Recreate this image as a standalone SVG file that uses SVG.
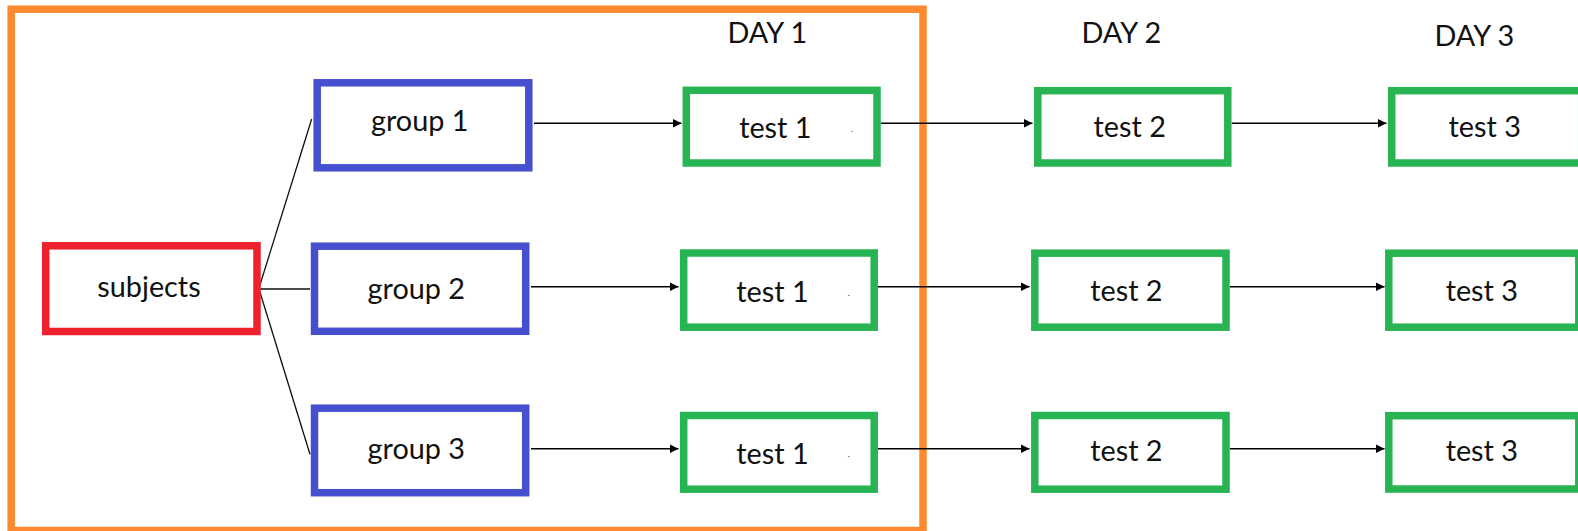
<svg xmlns="http://www.w3.org/2000/svg" width="1578" height="531" viewBox="0 0 1578 531">
<defs>
<marker id="ah" markerUnits="userSpaceOnUse" markerWidth="10" markerHeight="9" refX="9" refY="4.5" orient="auto">
<path d="M0,0 L9,4.5 L0,9 z" fill="#000"/>
</marker>
<style>
.lbl{font-family:Lato,"Open Sans","Liberation Sans",sans-serif;font-size:28.8px;fill:#111;text-anchor:middle}
.dot{font-family:"Liberation Sans",sans-serif;font-size:9px;fill:#223;text-anchor:middle}
.box{fill:#fff;stroke-width:7.5}
.frame{fill:none;stroke:#FD8A30;stroke-width:7.5}
.red{stroke:#EE222E}
.blue{stroke:#4650CE}
.green{stroke:#28B453}
.line{stroke:#111;stroke-width:1.3;fill:none}
.arr{stroke:#000;stroke-width:1.5;fill:none;marker-end:url(#ah)}
</style>
</defs>
<rect width="1578" height="531" fill="#fff"/>
<g id="frame-day1">
<rect class="frame" x="11.2" y="9.2" width="911.8" height="521.3"/>
</g>
<g id="connectors">
<line class="line" x1="259" y1="288" x2="311.7" y2="119"/>
<line class="line" x1="259" y1="289" x2="310" y2="289"/>
<line class="line" x1="259" y1="289" x2="310" y2="454.3"/>
<line class="arr" x1="534" y1="123.3" x2="681.5" y2="123.3"/>
<line class="arr" x1="531" y1="286.7" x2="678.5" y2="286.7"/>
<line class="arr" x1="531" y1="448.7" x2="678.5" y2="448.7"/>
<line class="arr" x1="880.7" y1="123.3" x2="1032.5" y2="123.3"/>
<line class="arr" x1="877.7" y1="286.7" x2="1029.5" y2="286.7"/>
<line class="arr" x1="877.7" y1="448.7" x2="1029.5" y2="448.7"/>
<line class="arr" x1="1231.7" y1="123.3" x2="1386.5" y2="123.3"/>
<line class="arr" x1="1229.7" y1="286.7" x2="1384.5" y2="286.7"/>
<line class="arr" x1="1229.7" y1="448.7" x2="1384.5" y2="448.7"/>
</g>
<g id="subjects">
<rect class="box red" x="45.7" y="245.8" width="211.3" height="85.7"/>
<text class="lbl" x="149" y="296.7">subjects</text>
</g>
<g id="group1">
<rect class="box blue" x="317.2" y="82.8" width="211.6" height="85"/>
<text class="lbl" x="419.7" y="130.7">group 1</text>
</g>
<g id="group2">
<rect class="box blue" x="314.5" y="246.2" width="211.2" height="85.1"/>
<text class="lbl" x="416.3" y="299.3">group 2</text>
</g>
<g id="group3">
<rect class="box blue" x="314.5" y="408.2" width="211.2" height="84.5"/>
<text class="lbl" x="416.3" y="459.3">group 3</text>
</g>
<g id="day1-label"><text class="lbl" x="767.3" y="43.3">DAY 1</text></g>
<g id="day2-label"><text class="lbl" x="1121.3" y="43.3">DAY 2</text></g>
<g id="day3-label"><text class="lbl" x="1474.3" y="45.7">DAY 3</text></g>
<g id="test1-r1">
<rect class="box green" x="686.3" y="90.3" width="190.7" height="72.7"/>
<text class="lbl" x="775.3" y="137.7">test 1</text>
<text class="dot" x="851.7" y="132">.</text>
</g>
<g id="test1-r2">
<rect class="box green" x="683.7" y="253" width="190.5" height="74.2"/>
<text class="lbl" x="772.5" y="302">test 1</text>
<text class="dot" x="848.7" y="295.6">.</text>
</g>
<g id="test1-r3">
<rect class="box green" x="683.7" y="415.5" width="190.5" height="73.7"/>
<text class="lbl" x="772.5" y="464.3">test 1</text>
<text class="dot" x="848.7" y="457.3">.</text>
</g>
<g id="test2-r1">
<rect class="box green" x="1037.8" y="90.7" width="190" height="72.3"/>
<text class="lbl" x="1129.7" y="136.7">test 2</text>
</g>
<g id="test2-r2">
<rect class="box green" x="1034.8" y="253.2" width="191.2" height="74"/>
<text class="lbl" x="1126.4" y="300.5">test 2</text>
</g>
<g id="test2-r3">
<rect class="box green" x="1034.8" y="415.5" width="191.2" height="73.7"/>
<text class="lbl" x="1126.4" y="461.3">test 2</text>
</g>
<g id="test3-r1">
<rect class="box green" x="1391.7" y="90.7" width="190" height="72.3"/>
<text class="lbl" x="1484.7" y="136.7">test 3</text>
</g>
<g id="test3-r2">
<rect class="box green" x="1388.8" y="253.2" width="190" height="74"/>
<text class="lbl" x="1481.8" y="301">test 3</text>
</g>
<g id="test3-r3">
<rect class="box green" x="1388.8" y="415.7" width="190" height="73.3"/>
<text class="lbl" x="1481.8" y="461">test 3</text>
</g>
</svg>
